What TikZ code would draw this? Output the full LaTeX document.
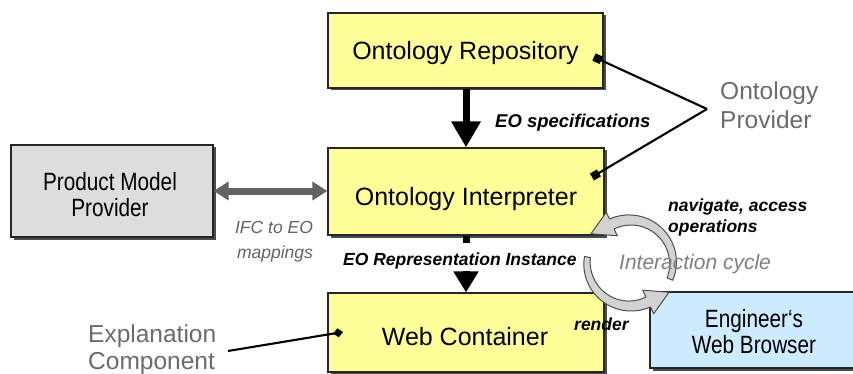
\documentclass[tikz,border=0pt]{standalone}
\usepackage{fontspec}
\setmainfont{Liberation Sans}
\newfontfamily\condsf[FakeStretch=0.83]{Liberation Sans}
\usetikzlibrary{arrows.meta,shadows,calc}

\definecolor{boxyellow}{HTML}{FFFF99}
\definecolor{boxgray}{HTML}{DDDDDD}
\definecolor{boxblue}{HTML}{CCEBFF}
\definecolor{sidegray}{HTML}{6B6B6B}
\definecolor{arrowgray}{HTML}{636363}
\definecolor{cyclegray}{HTML}{7F7F7F}
\definecolor{cyclefill}{HTML}{D2D2D2}
\definecolor{cycleedge}{HTML}{4F4F4F}

% curved arrow of the interaction cycle: #1 tail angle, #2 angle of the head base
\newcommand\drawcyclearrow[2]{%
  \filldraw[cyclestyle]
    plot[domain=0:1, samples=40, variable=\t]
      ({630+(46+2.5*\t)*cos((#1)+((#2)-(#1))*\t)},{263+(46+2.5*\t)*sin((#1)+((#2)-(#1))*\t)})
    -- ({630+56*cos(#2)},{263+56*sin(#2)})
    -- ({630+43*cos(#2)+23*sin(#2)},{263+43*sin(#2)-23*cos(#2)})
    -- ({630+30*cos(#2)},{263+30*sin(#2)})
    -- plot[domain=0:1, samples=40, variable=\t]
      ({630+(37.5+2.5*\t)*cos((#2)+((#1)-(#2))*\t)},{263+(37.5+2.5*\t)*sin((#2)+((#1)-(#2))*\t)})
    -- cycle;}

\begin{document}
\begin{tikzpicture}[x=1pt,y=-1pt,
  comp/.style={draw=black!85, line width=1.2pt, inner sep=0pt,
    drop shadow={shadow xshift=2.5pt, shadow yshift=-2.5pt, fill=black!70, opacity=1}},
  boxtext/.style={anchor=base, inner sep=0pt, font=\fontsize{25}{30}\selectfont},
  condtext/.style={anchor=base, inner sep=0pt, font=\condsf\fontsize{25}{30}\selectfont},
  sidetext/.style={anchor=base west, inner sep=0pt, text=sidegray, font=\fontsize{24.5}{30}\selectfont},
  flowlabel/.style={anchor=base west, inner sep=0pt, font=\bfseries\itshape\fontsize{17.5}{21}\selectfont},
  maplabel/.style={anchor=base, inner sep=0pt, text=arrowgray, font=\itshape\fontsize{17.5}{21}\selectfont},
  cyclelabel/.style={anchor=base west, inner sep=0pt, text=cyclegray, font=\itshape\fontsize{21}{25}\selectfont},
  flowarrow/.style={line width=7pt, draw=black},
  pointer/.style={line width=2.1pt, draw=black},
  cyclestyle/.style={fill=cyclefill, draw=cycleedge, line width=1pt, line join=round}
]
\useasboundingbox (0,0) rectangle (853,374);

% components
\node[comp, fill=boxyellow, minimum width=275pt, minimum height=75pt] (repo) at (465.5,50.5) {};
\node[comp, fill=boxyellow, minimum width=276pt, minimum height=87pt] (interp) at (466,191.5) {};
\node[comp, fill=boxyellow, minimum width=276pt, minimum height=79pt] (webc) at (466,332.5) {};
\node[comp, fill=boxgray, minimum width=202pt, minimum height=92pt] (pmp) at (112,191) {};
\node[comp, fill=boxblue, minimum width=208pt, minimum height=76pt] (browser) at (754,330) {};

% data flow
\draw[flowarrow, -{Triangle[width=28pt,length=26pt]}] (interp.north |- repo.south) -- (interp.north);
\draw[flowarrow, -{Triangle[width=24pt,length=21pt]}] (interp.south) -- (webc.north);
\draw[line width=7pt, draw=arrowgray,
      {Triangle[width=18pt,length=15pt]}-{Triangle[width=18pt,length=15pt]}]
  (pmp.east) -- (pmp.east -| interp.west);

% ontology provider and explanation component pointers
\coordinate (provtip) at (707,109);
\coordinate (repomark) at (594,57);
\coordinate (interpmark) at (592,177);
\coordinate (explstart) at (228,351);
\coordinate (webcmark) at (343,332);
\draw[pointer, -{Square[length=8pt,width=8pt]}] (provtip) -- (repomark);
\draw[pointer, -{Square[length=8pt,width=8pt]}] (provtip) -- (interpmark);
\draw[pointer, -{Turned Square[length=10pt,width=9pt]}] (explstart) -- (webcmark);

% interaction cycle
\drawcyclearrow{22}{-115}
\drawcyclearrow{188}{65}

% texts
\node[boxtext] (repotext) at (465.5,60) {Ontology Repository};
\node[boxtext] (interptext) at (466,205) {Ontology Interpreter};
\node[boxtext] (webctext) at (465,345) {Web Container};
\node[condtext] (pmptext1) at (110,190) {Product Model};
\node[condtext] (pmptext2) at (110,216.7) {Provider};
\node[condtext] (brtext1) at (754,327) {Engineer‘s};
\node[condtext] (brtext2) at (754,353) {Web Browser};
\node[sidetext] (prov1) at (720,100) {Ontology};
\node[sidetext] (prov2) at (720,128.3) {Provider};
\node[sidetext] (expl1) at (88,342.5) {Explanation};
\node[sidetext] (expl2) at (88,369.5) {Component};
\node[flowlabel, font=\bfseries\itshape\fontsize{18.5}{22}\selectfont] (speclabel) at (495,128) {EO specifications};
\node[flowlabel, fill=white, text height=22pt, text depth=6pt] (replabel) at (343,265) {EO Representation Instance};
\node[flowlabel] (nav1) at (668,211.7) {navigate, access};
\node[flowlabel] (nav2) at (668,232.7) {operations};
\node[flowlabel] (renderlabel) at (574,330) {render};
\node[cyclelabel] (cyclelabel) at (619,269.3) {Interaction cycle};
\node[maplabel] (map1) at (274,233.3) {IFC to EO};
\node[maplabel] (map2) at (275,258) {mappings};
\end{tikzpicture}
\end{document}
